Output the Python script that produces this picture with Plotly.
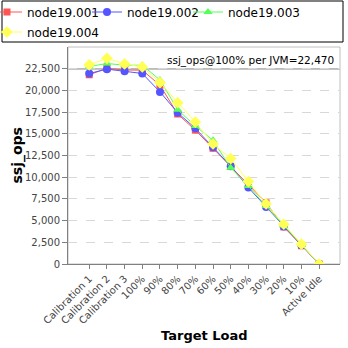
import plotly.graph_objects as go

categories = ["Calibration 1", "Calibration 2", "Calibration 3", "100%", "90%", "80%",
              "70%", "60%", "50%", "40%", "30%", "20%", "10%", "Active Idle"]
node001 = [21800, 22550, 22350, 22330, 20600, 17280, 15420, 13330, 11250, 9150, 7050, 4270, 2100, 0]
node002 = [21950, 22450, 22200, 21950, 19830, 17430, 15630, 13450, 11270, 8800, 6560, 4330, 2170, 0]
node003 = [22750, 23100, 22900, 22900, 21200, 17780, 15900, 14250, 11080, 8980, 6680, 4430, 2230, 0]
node004 = [22950, 23700, 23050, 22700, 20900, 18580, 16350, 13830, 12150, 9500, 6920, 4580, 2280, 0]
ref_value = 22470
y_ticks = list(range(0, 25000, 2500))

W = H = 348
L, R, T, B = 68, 8, 47, 84
pw = W - L - R
ph = H - T - B

# legend slot (page px): left x, centre y
series = [
    ("node19.001", node001, "#FF5555", "square", 7, "legend", -13, 12),
    ("node19.002", node002, "#5555FF", "circle", 8, "legend2", 87, 12),
    ("node19.003", node003, "#55FF55", "triangle-up", 8, "legend3", 188, 12),
    ("node19.004", node004, "#FFFF55", "diamond", 9, "legend4", -13, 32),
]

FONT = "DejaVu Sans"
fig = go.Figure()
legends = {}
for name, vals, color, sym, size, lg, lx, ly in series:
    fig.add_trace(go.Scatter(
        x=categories, y=vals, name=name, mode="lines+markers", legend=lg,
        line=dict(color=color, width=1),
        marker=dict(symbol=sym, size=size, color=color, line=dict(width=0)),
    ))
    legends[lg] = dict(xref="paper", yref="paper", x=(lx - L) / pw, xanchor="left",
                       y=1 + (T - ly) / ph, yanchor="middle",
                       font=dict(family=FONT, size=12, color="#000000"),
                       itemwidth=30, bgcolor="rgba(0,0,0,0)", borderwidth=0)

fig.add_shape(type="line", xref="paper", yref="y", x0=0, x1=1, y0=ref_value, y1=ref_value,
              line=dict(color="#808080", width=1), layer="below")
fig.add_shape(type="rect", xref="paper", yref="paper", x0=0, x1=1, y0=0, y1=1,
              line=dict(color="#C0C0C0", width=1), layer="below")
# legend frame
fig.add_shape(type="rect", xref="paper", yref="paper",
              x0=(2 - L) / pw, x1=(343 - L) / pw,
              y0=1 + (T - 42) / ph, y1=1 + (T - 1) / ph,
              line=dict(color="#000000", width=1))

fig.add_annotation(xref="paper", yref="y", x=(336 - L) / pw, y=ref_value,
                   xanchor="right", yanchor="bottom", showarrow=False,
                   text="ssj_ops@100% per JVM=22,470",
                   font=dict(family=FONT, size=10.5, color="#000000"))
# axis titles
fig.add_annotation(xref="paper", yref="paper", x=(17 - L) / pw, y=0.5,
                   xanchor="center", yanchor="middle", showarrow=False, textangle=-90,
                   text="<b>ssj_ops</b>", font=dict(family=FONT, size=14, color="#000000"))
fig.add_annotation(xref="paper", yref="paper", x=0.5, y=-(335 - (T + ph)) / ph,
                   xanchor="center", yanchor="middle", showarrow=False,
                   text="<b>Target Load</b>", font=dict(family=FONT, size=13, color="#000000"))

fig.update_layout(
    width=W, height=H,
    margin=dict(l=L, r=R, t=T, b=B, pad=0, autoexpand=False),
    paper_bgcolor="white", plot_bgcolor="white",
    font=dict(family=FONT, color="#000000"),
    showlegend=True,
    xaxis=dict(
        type="category", range=[-1.2, 14.18], automargin=False,
        tickangle=-45, tickfont=dict(family=FONT, size=10, color="#444444"),
        ticks="outside", ticklen=4, tickcolor="#808080",
        showline=True, linecolor="#808080", linewidth=1,
        showgrid=False, zeroline=False,
    ),
    yaxis=dict(
        range=[0, 25000], tickvals=y_ticks, tickformat=",d", automargin=False,
        tickfont=dict(family=FONT, size=10, color="#444444"),
        ticks="outside", ticklen=5, tickcolor="#808080",
        showline=True, linecolor="#808080", linewidth=1,
        showgrid=True, gridcolor="#D8D8D8", griddash="dash", gridwidth=1,
        zeroline=False,
    ),
    **legends,
)

fig.write_html("out.html")
